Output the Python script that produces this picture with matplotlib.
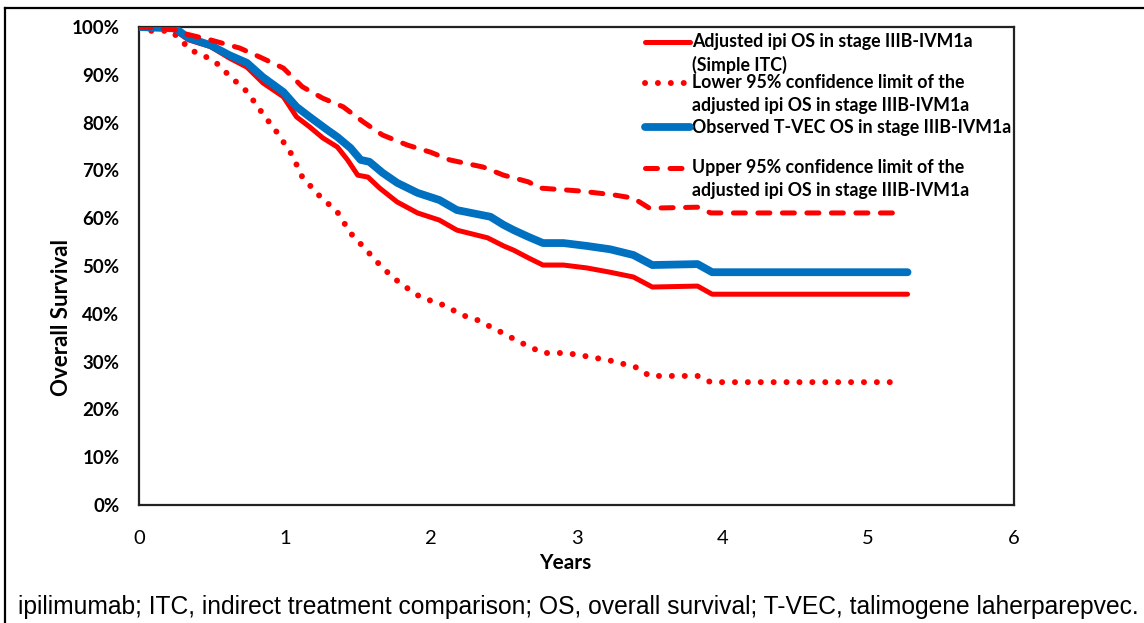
import numpy as np
import matplotlib
matplotlib.use("Agg")
from matplotlib import pyplot as plt
from matplotlib.lines import Line2D

# adjusted ipi OS (simple ITC)
adj_years = [0, 0.23, 0.34, 0.49, 0.62, 0.74, 0.85, 0.99, 1.08, 1.17, 1.26, 1.36, 1.43, 1.50,
             1.57, 1.65, 1.77, 1.91, 2.06, 2.18, 2.39, 2.50, 2.57, 2.67, 2.77, 2.91, 3.07, 3.23,
             3.39, 3.52, 3.83, 3.93, 5.27]
adj_os = [100, 99.6, 97.3, 95.9, 93.5, 91.6, 88.3, 85.4, 81.2, 79.1, 76.8, 74.9, 72.2, 69.0,
          68.6, 66.3, 63.4, 61.1, 59.6, 57.5, 55.9, 54.2, 53.3, 51.7, 50.2, 50.2, 49.6, 48.7,
          47.7, 45.6, 45.8, 44.1, 44.1]

# lower 95% limit
low_years = [0, 0.08, 0.22, 0.30, 0.35, 0.44, 0.53, 0.62, 0.74, 0.85, 0.95, 1.05, 1.12, 1.23,
             1.36, 1.45, 1.56, 1.67, 1.79, 1.93, 2.09, 2.22, 2.32, 2.48, 2.61, 2.77, 2.93, 3.09,
             3.25, 3.42, 3.50, 3.83, 3.92, 5.17]
low_os = [100, 99.2, 99.2, 96.9, 95.2, 94.1, 92.5, 89.8, 86.5, 81.8, 77.8, 73.2, 68.6, 64.9,
          61.3, 56.9, 53.3, 49.6, 46.4, 43.5, 41.8, 39.7, 38.7, 36.2, 34.1, 31.8, 31.8, 31.0,
          30.1, 28.7, 27.0, 27.0, 25.7, 25.7]

# observed T-VEC OS
tvec_years = [0, 0.25, 0.34, 0.49, 0.62, 0.74, 0.85, 0.99, 1.08, 1.17, 1.29, 1.36, 1.45, 1.52,
              1.58, 1.67, 1.77, 1.91, 2.06, 2.18, 2.41, 2.50, 2.57, 2.67, 2.77, 2.91, 3.07, 3.23,
              3.39, 3.52, 3.83, 3.93, 5.27]
tvec_os = [100, 99.7, 97.7, 96.2, 94.1, 92.5, 89.5, 86.4, 83.3, 81.2, 78.5, 77.0, 74.7, 72.2,
           71.8, 69.5, 67.4, 65.3, 63.8, 61.7, 60.3, 58.6, 57.5, 56.1, 54.8, 54.8, 54.2, 53.5,
           52.3, 50.2, 50.4, 48.7, 48.7]

# upper 95% limit
up_years = [0, 0.23, 0.30, 0.49, 0.69, 0.83, 0.99, 1.12, 1.26, 1.40, 1.54, 1.67, 1.84, 2.00,
            2.13, 2.36, 2.50, 2.67, 2.75, 3.02, 3.25, 3.39, 3.50, 3.83, 3.92, 5.25]
up_os = [100, 99.6, 98.7, 97.3, 95.6, 93.7, 91.4, 87.5, 85.1, 83.3, 80.1, 77.4, 75.3, 73.8,
         72.2, 70.7, 69.0, 67.6, 66.3, 65.7, 64.9, 64.2, 62.1, 62.3, 61.1, 61.1]

labels = ["Adjusted ipi OS in stage IIIB-IVM1a\n(Simple ITC)",
          "Lower 95% confidence limit of the\nadjusted ipi OS in stage IIIB-IVM1a",
          "Observed T-VEC OS in stage IIIB-IVM1a",
          "Upper 95% confidence limit of the\nadjusted ipi OS in stage IIIB-IVM1a"]

x_ticks = [0, 1, 2, 3, 4, 5, 6]
y_ticks = [0, 10, 20, 30, 40, 50, 60, 70, 80, 90, 100]

caption = ("ipilimumab; ITC, indirect treatment comparison; OS, overall survival; "
           "T-VEC, talimogene laherparepvec.")

RED = "#FF0000"
BLUE = "#0070C0"
FONT = ["Lato", "DejaVu Sans"]

fig = plt.figure(figsize=(11.44, 6.23), dpi=100)
ax = fig.add_axes([139/1144, 1-505/623, 875/1144, 478/623])

styles = [
    dict(color=RED, lw=3.6, ls="-", zorder=3),
    dict(color=RED, lw=4.3, ls=(0, (0.01, 2.15)), dash_capstyle="round", zorder=4),
    dict(color=BLUE, lw=5.6, ls="-", zorder=5),
    dict(color=RED, lw=3.6, ls=(0, (2.4, 2.5)), dash_capstyle="round", zorder=6),
]
series = [(adj_years, adj_os), (low_years, low_os), (tvec_years, tvec_os), (up_years, up_os)]
for (xs, ys), st in zip(series, styles):
    ax.plot(xs, ys, solid_capstyle="round", solid_joinstyle="round", **st)

ax.set_xlim(0, 6)
ax.set_ylim(0, 100)
ax.set_xticks(x_ticks)
ax.set_xticklabels([str(v) for v in x_ticks], family=FONT, fontsize=14.5)
ax.set_yticks(y_ticks)
ax.set_yticklabels([f"{v}%" for v in y_ticks], family=FONT, fontsize=13.5, fontweight="bold")
ax.tick_params(axis="both", length=0)
ax.tick_params(axis="y", pad=14)
ax.tick_params(axis="x", pad=18)
for s in ax.spines.values():
    s.set_linewidth(1.6)
    s.set_color("#222222")

ax.set_xlabel("Years", family=FONT, fontsize=15, fontweight="bold")
ax.xaxis.set_label_coords(426/875, (505-563)/478)
ax.xaxis.label.set_va("center")
ax.set_ylabel("Overall Survival", family=FONT, fontsize=16, fontweight="bold")
ax.yaxis.set_label_coords((61-139)/875, (505-318)/478)
ax.yaxis.label.set_va("center")

# legend, drawn Excel style (handle beside first line of each entry)
leg_y = [42, 83, 127, 168]
for lab, st, yp in zip(labels, styles, leg_y):
    ya = (505 - yp) / 478
    st2 = dict(st)
    st2["zorder"] = 7
    ax.add_line(Line2D([(645-139)/875, (690-139)/875], [ya, ya], transform=ax.transAxes,
                       solid_capstyle="round", **st2))
    for i, line in enumerate(lab.split("\n")):
        ax.text((692-139)/875, ya - i*22.5/478, line, transform=ax.transAxes,
                family=FONT, fontsize=12.8, fontweight="bold", va="center", ha="left")

# outer frame lines and caption
fig.add_artist(Line2D([5/1144, 1], [1-8/623, 1-8/623], color="black", lw=1.6))
fig.add_artist(Line2D([5/1144, 5/1144], [0, 1-8/623], color="black", lw=1.6))
fig.text(18/1144, 1-607/623, caption, family=["Liberation Sans", "DejaVu Sans"],
         fontsize=17.7, va="center", ha="left")

fig.savefig("out.png", dpi=100)
